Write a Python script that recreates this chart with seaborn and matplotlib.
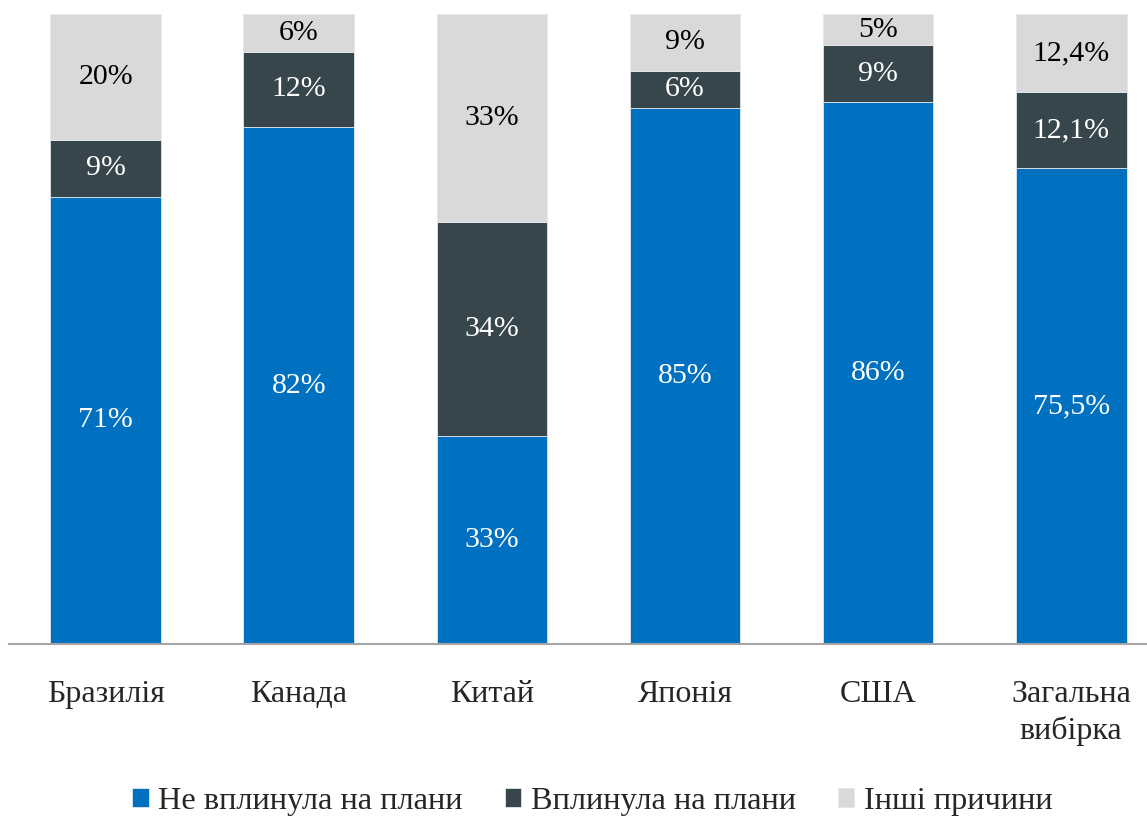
import matplotlib
matplotlib.use("Agg")
import matplotlib.pyplot as plt
import seaborn as sns
import numpy as np

# data
countries = ['Бразилія', 'Канада', 'Китай', 'Японія', 'США', 'Загальна\nвибірка']
no_effect = [71, 82, 33, 85, 86, 75.5]
effect = [9, 12, 34, 6, 9, 12.1]
other = [20, 6, 33, 9, 5, 12.4]
series_names = ['Не вплинула на плани', 'Вплинула на плани', 'Інші причини']
colors = ['#0070C0', '#37464C', '#D9D9D9']
text_colors = ['white', 'white', 'black']

sns.set_style('white')
plt.rcParams['font.family'] = ['Liberation Serif', 'DejaVu Serif']

fig = plt.figure(figsize=(11.47, 8.16), dpi=100)
ax = fig.add_axes([0.008, 0.211, 1.0, 0.772])

bottom = np.zeros(len(countries))
for vals, name, col, tcol in zip([no_effect, effect, other], series_names, colors, text_colors):
    sns.barplot(x=countries, y=vals, bottom=bottom, color=col, width=0.573,
                edgecolor='#E4E8EC', linewidth=0.6, label=name, ax=ax, saturation=1)
    labs = [(f'{v:g}'.replace('.', ',')) + '%' for v in vals]
    ax.bar_label(ax.containers[-1], labels=labs, label_type='center',
                 color=tcol, fontsize=21.5)
    bottom = bottom + np.array(vals)

ax.set_ylim(0, 100)
ax.set_xlim(-0.5, 5.44)
ax.set_yticks([])
ax.set_ylabel('')
sns.despine(ax=ax, left=True, top=True, right=True)
ax.spines['bottom'].set_color('#A6A6A6')
ax.spines['bottom'].set_linewidth(1.5)
ax.tick_params(axis='x', length=0, pad=26, labelsize=23)
for t in ax.get_xticklabels():
    t.set_verticalalignment('top')
    t.set_linespacing(1.3)

handles = ax.containers
ax.legend(handles, series_names, loc='center left', bbox_to_anchor=(0.09, 0.018),
          bbox_transform=fig.transFigure, ncol=3, frameon=False, fontsize=23.3,
          handlelength=0.5, handleheight=0.5, handletextpad=0.3, columnspacing=1.3)

fig.savefig('out.png', dpi=100)
